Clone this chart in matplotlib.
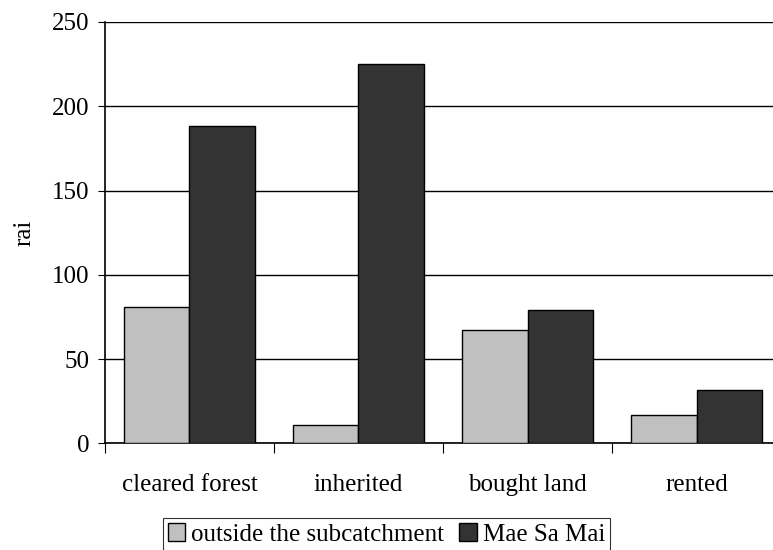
import numpy as np
import matplotlib.pyplot as plt

categories = ["cleared forest", "inherited", "bought land", "rented"]
outside = [81, 11, 67, 17]
mae_sa_mai = [188, 225, 79, 31.5]
series_names = ["outside the subcatchment", "Mae Sa Mai"]

plt.rcParams['font.family'] = ['Liberation Serif', 'DejaVu Serif']
plt.rcParams['font.size'] = 18

fig = plt.figure(figsize=(7.73, 5.5), dpi=100)
ax = fig.add_axes([0.1358, 0.194, 0.8746, 0.766])

x = np.arange(len(categories)) + 0.5
w = 0.385
ax.bar(x - w / 2, outside, w, color='#c0c0c0', edgecolor='black', linewidth=1, label=series_names[0], zorder=3)
ax.bar(x + w / 2, mae_sa_mai, w, color='#333333', edgecolor='black', linewidth=1, label=series_names[1], zorder=3)

ax.set_xlim(0, len(categories))
ax.set_ylim(0, 250)
ax.set_yticks([0, 50, 100, 150, 200, 250])
ax.yaxis.grid(True, color='black', linewidth=1, zorder=0)
ax.set_ylabel("rai", labelpad=12)

# boundary ticks, labels centred in between
ax.set_xticks(np.arange(len(categories) + 1))
ax.set_xticklabels([])
ax.set_xticks(x, minor=True)
ax.set_xticklabels(categories, minor=True)
ax.tick_params(axis='x', which='major', length=7, direction='out')
ax.tick_params(axis='x', which='minor', length=0, pad=22)
ax.tick_params(axis='y', length=5, direction='out', pad=6)

for s in ['top', 'right']:
    ax.spines[s].set_visible(False)
ax.spines['left'].set_linewidth(1.2)
ax.spines['bottom'].set_linewidth(1.2)

leg = fig.legend(loc='center', bbox_to_anchor=(0.5, 0.028), ncol=2, frameon=True,
                 fancybox=False, edgecolor='black', handlelength=0.7, handleheight=0.7,
                 handletextpad=0.25, columnspacing=0.6, borderpad=0.2, borderaxespad=0)
leg.get_frame().set_linewidth(0.8)

fig.savefig("out.png", dpi=100)
